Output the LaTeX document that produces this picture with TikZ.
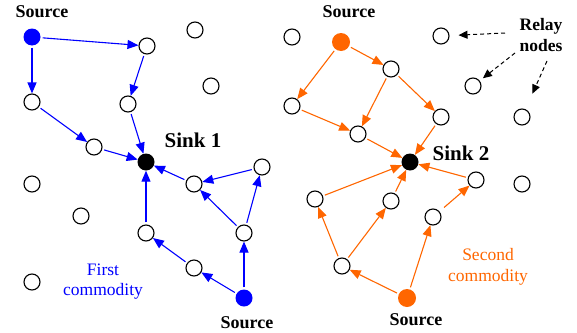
\documentclass[tikz,border=0pt]{standalone}
\usepackage{fontspec}
\setmainfont{Liberation Serif}
\usetikzlibrary{arrows.meta}
\definecolor{myblue}{RGB}{0,0,255}
\definecolor{myorange}{RGB}{255,102,0}
\begin{document}
\begin{tikzpicture}[x=1pt,y=-1pt,
 relay/.style={circle,draw=black,fill=white,line width=1.1pt,minimum size=16pt,inner sep=0pt},
 srcb/.style={circle,fill=myblue,minimum size=17pt,inner sep=0pt},
 srco/.style={circle,fill=myorange,minimum size=18pt,inner sep=0pt},
 sinknode/.style={circle,fill=black,minimum size=17pt,inner sep=0pt},
 flowb/.style={draw=myblue,line width=1.1pt,-{Triangle[length=11pt,width=9pt]},shorten <=2pt},
 flowo/.style={draw=myorange,line width=1.1pt,-{Triangle[length=11pt,width=9pt]},shorten <=2pt},
 pointer/.style={draw=black,line width=1pt,dashed,dash pattern=on 4pt off 3pt,-{Triangle[length=9pt,width=8pt]}},
 boldlbl/.style={font=\fontsize{18}{20}\selectfont\bfseries,anchor=base,inner sep=0pt},
 sinklbl/.style={font=\fontsize{21}{24}\selectfont\bfseries,anchor=base,inner sep=0pt},
 relaylbl/.style={font=\fontsize{17.5}{20}\selectfont\bfseries,anchor=base,inner sep=0pt},
 commlbl/.style={font=\fontsize{17.5}{20}\selectfont,anchor=base,inner sep=0pt}
]
\useasboundingbox (0,0) rectangle (577,332);
% left side nodes
\node[srcb] (s1) at (32,37) {};
\node[relay] (a) at (147,46) {};
\node[relay] (r1) at (195,30) {};
\node[relay] (b) at (32,102) {};
\node[relay] (c) at (128,104) {};
\node[relay] (r2) at (211,86) {};
\node[relay] (d) at (94,147) {};
\node[sinknode] (k1) at (146,162) {};
\node[relay] (e) at (262,167) {};
\node[relay] (f) at (194,184) {};
\node[relay] (g) at (146,233) {};
\node[relay] (h) at (244,233) {};
\node[relay] (i) at (194,268) {};
\node[srcb] (s2) at (244,298) {};
\node[relay] (r3) at (32,184) {};
\node[relay] (r4) at (81,216) {};
\node[relay] (r5) at (32,282) {};
% right side nodes
\node[relay] (r6) at (292,37) {};
\node[relay] (kk) at (292,106) {};
\node[srco] (s3) at (341,42) {};
\node[relay] (j) at (391,69) {};
\node[relay] (r7) at (441,36) {};
\node[relay] (l) at (358,134) {};
\node[relay] (m) at (441,117) {};
\node[relay] (r8) at (473,86) {};
\node[relay] (r9) at (522,117) {};
\node[sinknode] (k2) at (410,162) {};
\node[relay] (n) at (315,199) {};
\node[relay] (o) at (391,201) {};
\node[relay] (p) at (476,180) {};
\node[relay] (r10) at (522,184) {};
\node[relay] (q) at (433,217) {};
\node[relay] (rr) at (342,266) {};
\node[srco] (s4) at (407,298) {};
% labels
\node[boldlbl] (ls1) at (42,17) {Source};
\node[boldlbl] (ls2) at (247,328) {Source};
\node[boldlbl] (ls3) at (349,17) {Source};
\node[boldlbl] (ls4) at (416,325) {Source};
\node[sinklbl] (lk1) at (193,147) {Sink 1};
\node[sinklbl] (lk2) at (461,160) {Sink 2};
\node[relaylbl] (lr1) at (541,30) {Relay};
\node[relaylbl] (lr2) at (541,51) {nodes};
\node[commlbl,text=myblue] (lc1) at (103,275) {First};
\node[commlbl,text=myblue] (lc2) at (103,295) {commodity};
\node[commlbl,text=myorange] (lc3) at (488,260) {Second};
\node[commlbl,text=myorange] (lc4) at (488,281) {commodity};
% first commodity
\draw[flowb] (s1) -- (a);
\draw[flowb] (s1) -- (b);
\draw[flowb] (a) -- (c);
\draw[flowb] (b) -- (d);
\draw[flowb] (c) -- (k1);
\draw[flowb] (d) -- (k1);
\draw[flowb] (g) -- (k1);
\draw[flowb] (f) -- (k1);
\draw[flowb] (e) -- (f);
\draw[flowb] (h) -- (f);
\draw[flowb] (h) -- (e);
\draw[flowb] (i) -- (g);
\draw[flowb] (s2) -- (i);
\draw[flowb] (s2) -- (h);
% second commodity
\draw[flowo] (s3) -- (kk);
\draw[flowo] (s3) -- (j);
\draw[flowo] (j) -- (l);
\draw[flowo] (j) -- (m);
\draw[flowo] (kk) -- (l);
\draw[flowo] (l) -- (k2);
\draw[flowo] (m) -- (k2);
\draw[flowo] (p) -- (k2);
\draw[flowo] (n) -- (k2);
\draw[flowo] (o) -- (k2);
\draw[flowo] (rr) -- (n);
\draw[flowo] (rr) -- (o);
\draw[flowo] (s4) -- (rr);
\draw[flowo] (s4) -- (q);
\draw[flowo,shorten <=6pt] (q) -- (p);
% relay pointers
\coordinate (t1) at (505,33);
\coordinate (t2) at (515,53);
\coordinate (t3) at (547,61);
\draw[pointer,shorten >=9pt] (t1) -- (r7);
\draw[pointer,shorten >=4pt] (t2) -- (r8);
\draw[pointer,shorten >=17pt] (t3) -- (r9);
\end{tikzpicture}
\end{document}
